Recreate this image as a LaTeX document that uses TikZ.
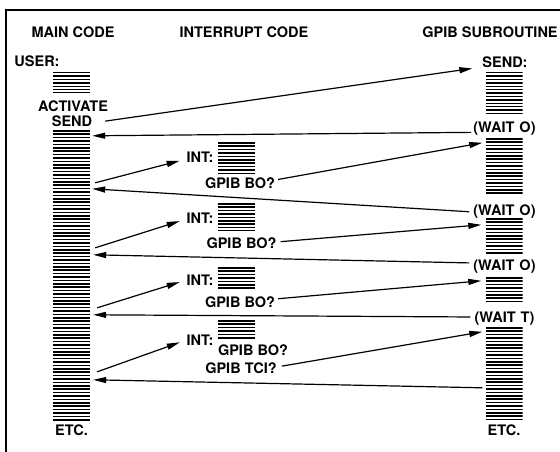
\documentclass[tikz,border=0pt]{standalone}
\usepackage{fontspec}
\setmainfont{TeX Gyre Heros}
\usepackage{tikz}
\usetikzlibrary{arrows.meta, positioning}

\tikzset{
  lbl/.style={inner sep=0pt, text height=10.3pt, text depth=0pt,
              font=\bfseries\fontsize{14.5}{15}\selectfont},
  codebar/.style={minimum width=37, inner sep=0pt, path picture={
      \foreach \k in {0,...,99}
        \draw[line width=1.5pt]
          ([yshift=-0.75pt-\k*3.4pt]path picture bounding box.north west) --
          ([yshift=-0.75pt-\k*3.4pt]path picture bounding box.north east);}},
  arr/.style={-{Triangle[length=13pt,width=6pt]}, line width=1.2pt}
}

\begin{document}
\begin{tikzpicture}[x=1pt, y=-1pt]
  \useasboundingbox (0,0) rectangle (560,452);

  %% ─── Frame ───────────────────────────────────────────────────────────────
  \draw[line width=1.5pt] (6,452) -- (6,10) -- (560,10);

  %% ─── Column heads ────────────────────────────────────────────────────────
  \node[lbl] (mainhead) at (73,32)  {MAIN CODE};
  \node[lbl] (inthead)  at (244,32) {INTERRUPT CODE};
  \node[lbl] (subhead)  at (490,32) {GPIB SUBROUTINE};

  %% ─── Main code ───────────────────────────────────────────────────────────
  \node[lbl] (user) at (37,61) {USER:};
  \node[codebar, minimum height=21] (mainA) at (71.5,82.5) {};
  \node[lbl] (activate) at (73,106) {ACTIVATE};
  \node[lbl] (send)     at (72,121) {SEND};
  \node[codebar, minimum height=290] (mainB) at (71.5,275) {};
  \node[lbl] (etcL) at (71.5,430) {ETC.};

  %% ─── Interrupt code ──────────────────────────────────────────────────────
  \foreach \n/\yc/\h/\yl in {1/157.5/31/157, 2/216.5/27/218,
                             3/278.5/23/280, 4/329/18/340} {
    \node[codebar, minimum height=\h] (isr\n) at (236.5,\yc) {};
    \node[lbl] (int\n) at (200,\yl) {INT:};
  }
  \foreach \n/\xb/\yb in {1/240/183, 2/241.5/243, 3/240/302, 4/253/350}
    \node[lbl] (bo\n) at (\xb,\yb) {GPIB BO?};
  \node[lbl] (tci) at (241,368) {GPIB TCI?};

  %% ─── GPIB subroutine ─────────────────────────────────────────────────────
  \node[lbl] (sendR) at (505,62) {SEND:};
  \foreach \n/\yc/\h in {1/92.5/41, 2/166.5/57, 3/235.5/35,
                         4/289.5/25, 5/373.5/93}
    \node[codebar, minimum height=\h] (sub\n) at (504,\yc) {};
  \foreach \n/\yc/\t in {1/127/O, 2/210/O, 3/265/O, 4/317/T}
    \node[lbl] (wait\n) at (504.5,\yc) {(WAIT\hspace{5pt}\t)};
  \node[lbl] (etcR) at (504,430) {ETC.};

  %% ─── Flow ────────────────────────────────────────────────────────────────
  \draw[arr, shorten <=13pt, shorten >=10pt]
    ([yshift=-2pt]send.east) -- ([yshift=-5pt]sendR.west);
  \draw[arr, shorten <=2pt]
    (wait1.south west) -- ([xshift=2pt,yshift=-6pt]mainB.north east);

  \draw[arr, shorten >=7pt]
    ([xshift=5pt,yshift=-53pt]mainB.north east) -- ([yshift=-2pt]int1.west);
  \draw[arr, shorten <=3pt]
    ([yshift=3pt]bo1.east) -- ([xshift=-3pt,yshift=-5pt]sub2.north west);
  \draw[arr, shorten <=4pt]
    ([yshift=-2pt]wait2.west) -- ([xshift=2pt,yshift=-59pt]mainB.north east);

  \draw[arr, shorten >=7pt]
    ([xshift=5pt,yshift=-118pt]mainB.north east) -- ([yshift=-1pt]int2.west);
  \draw[arr, shorten <=4pt]
    ([yshift=1pt]bo2.east) -- ([xshift=-4pt,yshift=-7pt]sub3.north west);
  \draw[arr, shorten <=4pt]
    ([yshift=2pt]wait3.west) -- ([xshift=3pt,yshift=-125pt]mainB.north east);

  \draw[arr, shorten >=7pt]
    ([xshift=7pt,yshift=-178pt]mainB.north east) -- (int3.west);
  \draw[arr, shorten <=3pt]
    ([yshift=3pt]bo3.east) -- ([xshift=-4pt,yshift=-4pt]sub4.north west);
  \draw[arr, shorten <=4pt]
    (wait4.west) -- ([xshift=3pt,yshift=-185pt]mainB.north east);

  \draw[arr, shorten >=7pt]
    ([xshift=7pt,yshift=-242pt]mainB.north east) -- (int4.west);
  \draw[arr, shorten <=5pt]
    ([yshift=1pt]tci.east) -- ([xshift=-3pt,yshift=-5pt]sub5.north west);
  \draw[arr]
    ([xshift=-3pt,yshift=-61pt]sub5.north west) --
    ([xshift=3pt,yshift=-250pt]mainB.north east);
\end{tikzpicture}
\end{document}
